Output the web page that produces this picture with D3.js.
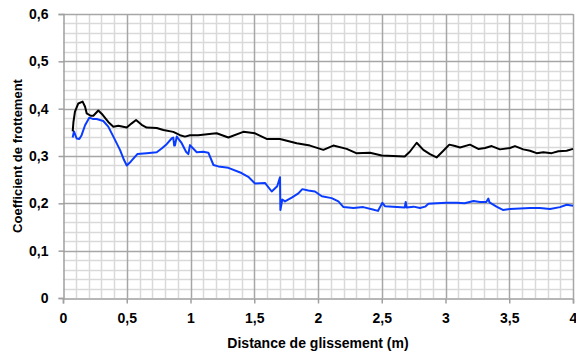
<!DOCTYPE html>
<html><head><meta charset="utf-8">
<script src="https://cdn.jsdelivr.net/npm/d3@7"></script>
<style>body{margin:0;background:#fff}svg{display:block}</style>
</head><body>
<svg id="c" width="576" height="356"></svg>
<script>
const xTicks = [0, 0.5, 1, 1.5, 2, 2.5, 3, 3.5, 4];
const xTickLabels = ["0", "0,5", "1", "1,5", "2", "2,5", "3", "3,5", "4"];
const yTicks = [0, 0.1, 0.2, 0.3, 0.4, 0.5, 0.6];
const yTickLabels = ["0", "0,1", "0,2", "0,3", "0,4", "0,5", "0,6"];
const xTitle = "Distance de glissement (m)";
const yTitle = "Coefficient de frottement";

const distBlack = [0.076,0.082,0.094,0.12,0.154,0.173,0.186,0.217,0.238,0.277,0.311,0.355,0.395,0.434,0.5,0.539,0.573,0.617,0.656,0.735,0.787,0.865,0.918,0.957,0.996,1.06,1.166,1.205,1.297,1.414,1.506,1.597,1.702,1.833,1.937,2.042,2.12,2.225,2.30,2.408,2.5,2.59,2.68,2.72,2.774,2.826,2.878,2.93,2.983,3.03,3.075,3.114,3.192,3.257,3.31,3.362,3.427,3.506,3.545,3.61,3.663,3.715,3.767,3.833,3.885,3.95,4.0];
const coefBlack = [0.352,0.372,0.394,0.411,0.415,0.404,0.39,0.385,0.385,0.396,0.387,0.372,0.362,0.364,0.36,0.369,0.376,0.366,0.36,0.359,0.355,0.351,0.344,0.341,0.344,0.344,0.347,0.348,0.339,0.351,0.348,0.336,0.336,0.327,0.322,0.313,0.322,0.315,0.306,0.307,0.301,0.3,0.299,0.309,0.328,0.313,0.304,0.297,0.311,0.324,0.321,0.318,0.324,0.315,0.317,0.321,0.314,0.317,0.321,0.314,0.311,0.306,0.308,0.306,0.31,0.311,0.315];

const distBlue = [0.076,0.086,0.107,0.128,0.146,0.173,0.206,0.238,0.264,0.29,0.316,0.355,0.395,0.447,0.478,0.5,0.531,0.583,0.656,0.735,0.774,0.813,0.852,0.865,0.872,0.878,0.892,0.931,0.965,0.983,0.996,1.049,1.1,1.14,1.18,1.218,1.297,1.40,1.453,1.506,1.584,1.637,1.68,1.702,1.705,1.72,1.741,1.794,1.846,1.877,1.924,1.976,2.03,2.107,2.16,2.2,2.278,2.355,2.43,2.47,2.505,2.525,2.68,2.688,2.695,2.75,2.8,2.84,2.866,2.93,3.01,3.088,3.15,3.22,3.27,3.32,3.336,3.345,3.40,3.45,3.506,3.585,3.663,3.74,3.82,3.898,3.95,4.0];
const coefBlue = [0.339,0.352,0.337,0.336,0.344,0.365,0.381,0.378,0.378,0.376,0.374,0.362,0.341,0.313,0.292,0.28,0.288,0.304,0.306,0.308,0.316,0.325,0.337,0.339,0.322,0.322,0.341,0.327,0.309,0.304,0.323,0.308,0.309,0.307,0.281,0.278,0.275,0.264,0.256,0.242,0.243,0.225,0.236,0.255,0.186,0.208,0.204,0.212,0.221,0.23,0.227,0.225,0.215,0.211,0.204,0.192,0.19,0.192,0.187,0.184,0.201,0.194,0.191,0.203,0.191,0.193,0.19,0.193,0.199,0.2,0.201,0.201,0.2,0.205,0.203,0.203,0.21,0.202,0.193,0.186,0.188,0.189,0.19,0.19,0.188,0.192,0.197,0.195];

const svg = d3.select("#c");
const L = 63, R = 573, T = 14, B = 298;
const x = d3.scaleLinear().domain([0, 4]).range([L, R]);
const y = d3.scaleLinear().domain([0, 0.6]).range([B, T]);
const font = "'Liberation Sans', Arial, sans-serif";

// minor grid
const g = svg.append("g");
const xMinor = d3.range(0, 41).map(i => i / 10).filter(v => Math.round(v * 10) % 5 !== 0);
const yMinor = d3.range(0, 31).map(i => i / 50).filter(v => Math.round(v * 50) % 5 !== 0);
g.selectAll(".ym").data(yMinor).join("line")
  .attr("x1", L).attr("x2", R).attr("y1", d => Math.round(y(d)) + 0.5).attr("y2", d => Math.round(y(d)) + 0.5)
  .attr("stroke", "#d9d9d9").attr("stroke-width", 1.5);
g.selectAll(".xm").data(xMinor).join("line")
  .attr("y1", T).attr("y2", B).attr("x1", d => Math.round(x(d)) + 0.5).attr("x2", d => Math.round(x(d)) + 0.5)
  .attr("stroke", "#d9d9d9").attr("stroke-width", 1.5);
// major grid
g.selectAll(".yM").data(yTicks.slice(1)).join("line")
  .attr("x1", L).attr("x2", R).attr("y1", d => Math.round(y(d)) + 0.5).attr("y2", d => Math.round(y(d)) + 0.5)
  .attr("stroke", "#a6a6a6").attr("stroke-width", 1.5);
g.selectAll(".xM").data(xTicks.slice(1)).join("line")
  .attr("y1", T).attr("y2", B).attr("x1", d => Math.round(x(d)) + 0.5).attr("x2", d => Math.round(x(d)) + 0.5)
  .attr("stroke", "#a6a6a6").attr("stroke-width", 1.5);

// axes
const xAxis = svg.append("g").attr("transform", `translate(0,${B + 0.5})`)
  .call(d3.axisBottom(x).tickValues(xTicks).tickFormat((d, i) => xTickLabels[i]).tickSize(5).tickPadding(10));
const yAxis = svg.append("g").attr("transform", `translate(${L + 0.5},0)`)
  .call(d3.axisLeft(y).tickValues(yTicks).tickFormat((d, i) => yTickLabels[i]).tickSize(5).tickPadding(10));
[xAxis, yAxis].forEach(a => {
  a.select(".domain").attr("stroke", "#a0a0a0").attr("stroke-width", 1.5);
  a.selectAll(".tick line").attr("stroke", "#a0a0a0").attr("stroke-width", 1.5);
  a.selectAll(".tick text").attr("fill", "#000").style("font-family", font)
    .style("font-size", "14px").style("font-weight", "bold");
});

// lines
const line = (xs, ys) => d3.line().x((d, i) => x(xs[i])).y((d, i) => y(ys[i]))(xs);
svg.append("path").attr("d", line(distBlue, coefBlue)).attr("fill", "none")
  .attr("stroke", "#0a3cff").attr("stroke-width", 2).attr("stroke-linejoin", "round");
svg.append("path").attr("d", line(distBlack, coefBlack)).attr("fill", "none")
  .attr("stroke", "#000").attr("stroke-width", 2).attr("stroke-linejoin", "round");

// titles
svg.append("text").attr("x", (L + R) / 2).attr("y", 348).attr("text-anchor", "middle")
  .style("font-family", font).style("font-size", "14px").style("font-weight", "bold").text(xTitle);
svg.append("text").attr("transform", `translate(22,${(T + B) / 2}) rotate(-90)`).attr("text-anchor", "middle")
  .style("font-family", font).style("font-size", "13px").style("font-weight", "bold").text(yTitle);
</script>
</body></html>
